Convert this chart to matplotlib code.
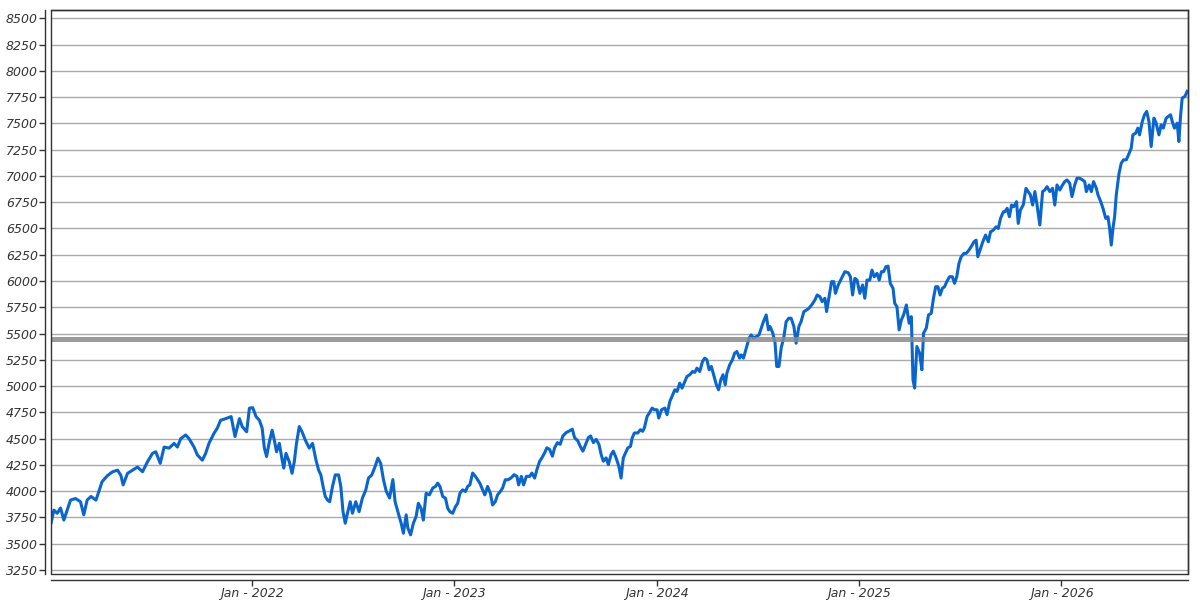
import matplotlib
matplotlib.use('Agg')
import matplotlib.pyplot as plt
import matplotlib.dates as mdates
from matplotlib.patches import Rectangle
import pandas as pd

# days counted from 2021-01-01
day_offsets = [
    2, 7, 13, 19, 25, 31, 37, 46, 55, 61, 67, 74, 83, 89, 94, 104, 113, 122, 128, 132,
    140, 149, 158, 167, 176, 185, 191, 199, 206, 215, 224, 230, 236, 245, 251, 260, 266, 275, 281, 287,
    296, 302, 308, 317, 327, 334, 342,
    347, 355, 360, 366, 372, 378, 383, 387, 391, 396, 401, 405, 409, 414, 419, 422, 426, 432, 437, 441,
    445, 450, 455, 461, 468, 474, 480, 485, 489, 493, 497, 501, 505, 510, 515, 521, 525, 529, 533, 537,
    542, 546, 552, 558, 564, 570, 575, 581, 587, 592, 597, 602, 607, 613, 619, 623, 628, 634, 638, 643,
    646, 651, 656, 661, 665, 670, 674, 679, 685, 691,
    696, 700, 704, 709, 714, 718, 722, 727, 732, 736, 740, 745, 750, 754, 758, 763, 768, 772, 776, 781,
    785, 790, 795, 799, 804, 808, 813, 817, 822, 827, 832, 838, 843, 846, 851, 855, 860, 866, 870, 875,
    879, 884, 888, 893, 897, 902, 907, 911, 916, 921, 926, 932, 938, 943, 947, 953, 957, 962, 967, 972,
    976, 981, 986, 991, 995, 999, 1004, 1008, 1013, 1017, 1022, 1027, 1031, 1035,
    1039, 1043, 1048, 1051, 1055, 1061, 1066, 1070, 1073, 1078, 1082, 1087, 1091, 1096, 1099, 1104, 1110, 1114, 1119, 1123,
    1128, 1132, 1137, 1141, 1146, 1150, 1155, 1160, 1164, 1168, 1173, 1178, 1182, 1186, 1190, 1194, 1198, 1203, 1207, 1211,
    1215, 1219, 1222, 1227, 1232, 1236, 1240, 1245, 1248, 1252, 1257, 1262, 1266, 1270, 1275, 1280, 1284, 1288, 1293, 1297,
    1300, 1305, 1309, 1312, 1316, 1320, 1325, 1329, 1334, 1338, 1343, 1347, 1352, 1356, 1361, 1366, 1370, 1375, 1379,
    1381, 1385, 1390, 1394, 1399, 1402, 1406, 1411, 1415, 1418, 1423, 1429, 1435, 1441, 1445, 1449, 1453, 1457, 1462, 1467,
    1471, 1475, 1480, 1484, 1488, 1493, 1497, 1501, 1505, 1509, 1513, 1517, 1522, 1525, 1529, 1533, 1537, 1541, 1546, 1551,
    1555, 1558, 1561, 1565, 1570, 1574, 1577, 1582, 1586, 1591, 1595, 1599, 1603, 1607, 1611, 1615, 1619, 1624, 1629, 1633,
    1637, 1641, 1645, 1650, 1654, 1659, 1663, 1668, 1672, 1675, 1680, 1684, 1689, 1694, 1698, 1703, 1708, 1712, 1716, 1721,
    1724, 1728, 1732, 1736, 1740, 1745, 1748, 1752, 1757, 1762, 1766, 1770, 1774, 1778, 1782, 1787, 1792, 1796, 1800, 1805,
    1810, 1814, 1818, 1823, 1828, 1832, 1836, 1841, 1845, 1850, 1854, 1859, 1864, 1868, 1871, 1876, 1880, 1884, 1889, 1892,
    1897, 1901, 1906, 1910, 1913, 1916, 1919, 1922, 1925, 1930, 1934, 1938, 1943, 1947, 1952, 1955, 1960, 1964, 1967, 1972,
    1976, 1980, 1984, 1988, 1993, 1997, 2002, 2006, 2010, 2015, 2019, 2023, 2026, 2030, 2035, 2038, 2041, 2044, 2049, 2053,
]

closes = [
    3700, 3820, 3790, 3840, 3725, 3820, 3915, 3930, 3900, 3775, 3915, 3950, 3915, 4010, 4090, 4150, 4185, 4200, 4150, 4060,
    4170, 4200, 4230, 4185, 4280, 4360, 4375, 4265, 4420, 4410, 4455, 4420, 4500, 4535, 4500, 4420, 4345, 4295, 4360, 4455,
    4550, 4600, 4675, 4690, 4710, 4520, 4690,
    4615, 4565, 4790, 4795, 4710, 4675, 4600, 4410, 4330, 4470, 4580, 4485, 4375, 4455, 4300, 4220, 4360, 4280, 4170, 4280,
    4455, 4615, 4565, 4485, 4410, 4455, 4300, 4200, 4155, 4045, 3950, 3915, 3900, 4045, 4155, 4155, 4045, 3805, 3695, 3790,
    3900, 3790, 3900, 3805, 3935, 4010, 4125, 4155, 4235, 4315, 4265, 4110, 4000, 3935, 4110, 3900, 3805, 3695, 3600, 3775,
    3650, 3585, 3695, 3760, 3885, 3835, 3725, 3980, 3965, 4030,
    4045, 4077, 4045, 3950, 3933, 3837, 3805, 3790, 3853, 3885, 3980, 4013, 3997, 4045, 4060, 4173, 4141, 4109, 4077, 4013,
    3965, 4045, 3980, 3869, 3901, 3965, 3997, 4029, 4109, 4109, 4125, 4157, 4141, 4060, 4141, 4060, 4141, 4141, 4173, 4125,
    4205, 4285, 4317, 4365, 4413, 4397, 4333, 4413, 4462, 4446, 4526, 4558, 4574, 4590, 4510, 4478, 4430, 4381, 4446, 4510,
    4526, 4462, 4494, 4446, 4349, 4285, 4317, 4253, 4349, 4381, 4317, 4237, 4125, 4317,
    4364, 4411, 4427, 4506, 4554, 4554, 4585, 4570, 4601, 4712, 4744, 4791, 4775, 4775, 4696, 4775, 4791, 4728, 4854, 4902,
    4965, 4949, 5028, 4981, 5044, 5092, 5108, 5139, 5130, 5171, 5139, 5234, 5266, 5250, 5155, 5187, 5108, 5013, 4965, 5060,
    5108, 5013, 5123, 5202, 5250, 5313, 5329, 5266, 5297, 5266, 5361, 5456, 5487, 5456, 5471, 5487, 5551, 5614, 5677, 5535,
    5567, 5503, 5408, 5187, 5187, 5361, 5471, 5614, 5646, 5646, 5567, 5408, 5567, 5614, 5709, 5725, 5740, 5772, 5804,
    5820, 5867, 5851, 5804, 5836, 5709, 5836, 5994, 5994, 5883, 5962, 6025, 6089, 6079, 6041, 5867, 6025, 6009, 5883, 5962,
    5836, 6009, 6009, 6104, 6041, 6073, 6009, 6089, 6089, 6136, 6142, 5978, 5930, 5788, 5756, 5535, 5630, 5677, 5772, 5598,
    5661, 5060, 4981, 5377, 5313, 5155, 5503, 5551, 5677, 5693, 5836, 5946, 5946, 5867, 5930, 5946, 5994, 6041, 6041, 5978,
    6041, 6168, 6231, 6263, 6263, 6294, 6326, 6373, 6389, 6231, 6310, 6373, 6437, 6373, 6468, 6484, 6516, 6500, 6595, 6658,
    6660, 6692, 6612, 6723, 6707, 6755, 6548, 6676, 6723, 6882, 6851, 6819, 6723, 6851, 6723, 6533, 6851, 6866, 6898, 6851,
    6882, 6723, 6914, 6866, 6914, 6946, 6962, 6930, 6803, 6914, 6978, 6978, 6962, 6946, 6851, 6914, 6851, 6946, 6882, 6819,
    6755, 6692, 6596, 6612, 6500, 6342, 6500, 6612, 6819, 7025, 7121, 7153, 7153, 7200, 7264, 7391, 7407, 7455, 7391, 7518,
    7582, 7614, 7518, 7280, 7550, 7502, 7391, 7486, 7455, 7550, 7566, 7582, 7518, 7455, 7502, 7328, 7566, 7741, 7757, 7805,
]

marker_level = 5450
y_ticks = list(range(3250, 8501, 250))

assert len(day_offsets) == len(closes)

start = pd.Timestamp('2021-01-01')
dates = start + pd.to_timedelta(day_offsets, unit='D')

plt.rcParams['font.family'] = ['DejaVu Sans']
plt.rcParams['font.style'] = 'italic'

fig = plt.figure(figsize=(12, 6), dpi=100)
ax = fig.add_axes([51 / 1200, 26 / 600, 1137 / 1200, 564 / 600])

ax.plot(dates, closes, color='#0a66cc', lw=2.2, zorder=3)
ax.axhline(marker_level, color='#8a8a8a', lw=3.6, alpha=0.85, zorder=4)

ax.set_ylim(3212, 8579)
ax.set_xlim(start + pd.Timedelta(days=1.8), start + pd.Timedelta(days=2054.5))
ax.set_yticks(y_ticks)
ax.xaxis.set_major_locator(mdates.YearLocator())
ax.xaxis.set_major_formatter(mdates.DateFormatter('%b - %Y'))

ax.yaxis.grid(True, color='#aaaaaa', lw=1)
ax.set_axisbelow(True)

for side in ['left', 'bottom']:
    ax.spines[side].set_position(('outward', 4))
for s in ax.spines.values():
    s.set_color('#333333')
    s.set_linewidth(1)
ax.add_patch(Rectangle((0, 0), 1, 1, transform=ax.transAxes, fill=False,
                       ec='#333333', lw=1, clip_on=False, zorder=5))

ax.tick_params(axis='both', direction='out', length=4, width=1, color='#333333',
               labelsize=9, labelcolor='#333333', pad=1.5)

fig.savefig('out.png', dpi=100)
